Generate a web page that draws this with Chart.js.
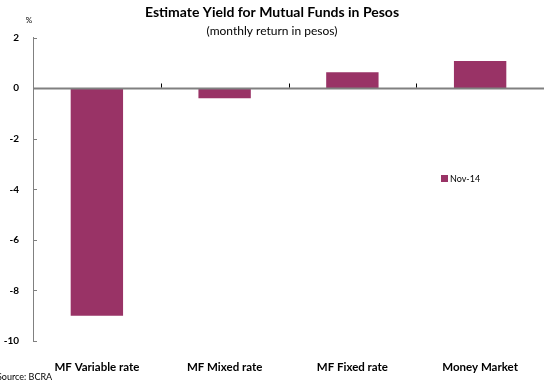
<!DOCTYPE html>
<html>
<head>
<meta charset="utf-8">
<script src="https://cdn.jsdelivr.net/npm/chart.js@4"></script>
<style>
  html, body { margin: 0; padding: 0; background: #fff; }
  #wrap { width: 544px; height: 385px; }
</style>
</head>
<body>
<div id="wrap"><canvas id="yieldChart" width="544" height="385"></canvas></div>
<script>
var categories = ['MF Variable rate', 'MF Mixed rate', 'MF Fixed rate', 'Money Market'];
var nov14 = [-9.0, -0.4, 0.63, 1.07];
var seriesLabel = 'Nov-14';
var yTicks = [2, 0, -2, -4, -6, -8, -10];

var FONT = 'Lato, "Open Sans", sans-serif';
var AXIS = '#808080';
var PLUM = '#993366';

// zero line, tick marks, legend box and small notes
var extras = {
  id: 'extras',
  afterDatasetsDraw: function(chart) {
    var c = chart.ctx, x = chart.scales.x, y = chart.scales.y;
    var area = chart.chartArea;
    var y0 = Math.round(y.getPixelForValue(0)) + 0.5;
    c.save();
    c.strokeStyle = AXIS;
    c.lineWidth = 2;
    c.beginPath();
    c.moveTo(area.left, y0);
    c.lineTo(area.right, y0);
    c.stroke();

    // category boundary ticks on the zero line
    c.lineWidth = 1;
    var half = (x.getPixelForValue(1) - x.getPixelForValue(0)) / 2;
    c.strokeStyle = '#000';
    for (var i = 1; i < categories.length; i++) {
      var bx = Math.round(x.getPixelForValue(i) - half) + 0.5;
      c.beginPath();
      c.moveTo(bx, y0 - 1);
      c.lineTo(bx, y0 - 5);
      c.stroke();
    }

    // y ticks drawn inward from the axis
    c.strokeStyle = AXIS;
    yTicks.forEach(function(v) {
      var py = Math.round(y.getPixelForValue(v)) + 0.5;
      c.beginPath();
      c.moveTo(area.left, py);
      c.lineTo(area.left + 4, py);
      c.stroke();
    });

    // legend
    var ds = chart.data.datasets[0];
    c.fillStyle = ds.backgroundColor;
    c.fillRect(441, 175, 7, 7);
    c.fillStyle = '#000';
    c.font = '9px ' + FONT;
    c.textBaseline = 'middle';
    c.textAlign = 'left';
    c.fillText(ds.label, 450, 179);

    c.font = '8px ' + FONT;
    c.textAlign = 'center';
    c.fillText('%', 29, 20);

    c.font = '9px ' + FONT;
    c.textAlign = 'left';
    c.fillText('Source: BCRA', -3, 377);
    c.restore();
  }
};

new Chart(document.getElementById('yieldChart'), {
  type: 'bar',
  data: {
    labels: categories,
    datasets: [{
      label: seriesLabel,
      data: nov14,
      backgroundColor: PLUM,
      barPercentage: 0.41,
      categoryPercentage: 1
    }]
  },
  options: {
    responsive: false,
    animation: false,
    layout: { padding: { top: 0, right: 0, bottom: 0, left: 0 } },
    plugins: {
      legend: { display: false },
      tooltip: { enabled: false },
      title: {
        display: true,
        text: 'Estimate Yield for Mutual Funds in Pesos',
        color: '#000',
        font: { family: FONT, size: 14, weight: 'bold', lineHeight: 1.1 },
        padding: { top: 5, bottom: 4 }
      },
      subtitle: {
        display: true,
        text: '(monthly return in pesos)',
        color: '#000',
        font: { family: FONT, size: 12, lineHeight: 1.1 },
        padding: { top: 0, bottom: 0 }
      }
    },
    scales: {
      x: {
        grid: { display: false },
        border: { display: false },
        ticks: {
          color: '#000',
          padding: 11,
          maxRotation: 0,
          font: { family: FONT, size: 11.5, weight: 'bold' }
        },
        afterFit: function(s) { s.height = 44; }
      },
      y: {
        min: -10,
        max: 2,
        grid: { display: false },
        border: { display: true, color: AXIS, width: 1 },
        ticks: {
          stepSize: 2,
          color: '#000',
          padding: 6,
          font: { family: FONT, size: 10, weight: 'bold' }
        },
        afterFit: function(s) { s.width = 33; }
      }
    }
  },
  plugins: [extras]
});
</script>
</body>
</html>
